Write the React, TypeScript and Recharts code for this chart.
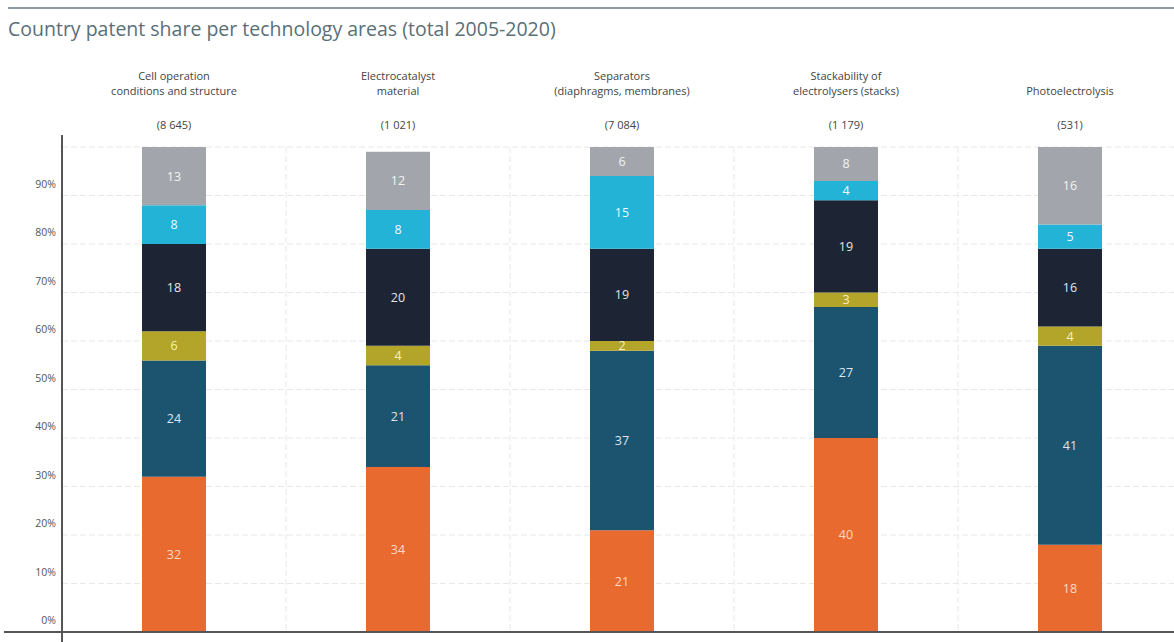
import React from 'react'
import {
  BarChart,
  Bar,
  XAxis,
  YAxis,
  CartesianGrid,
  LabelList,
} from 'recharts'

// technology areas (top labels) and patent counts
const categories = ['Cell operation', 'Electrocatalyst', 'Separators', 'Stackability', 'Photoelectrolysis']
const labelLines = [
  ['Cell operation', 'conditions and structure'],
  ['Electrocatalyst', 'material'],
  ['Separators', '(diaphragms, membranes)'],
  ['Stackability of', 'electrolysers (stacks)'],
  ['Photoelectrolysis'],
]
const counts = ['(8 645)', '(1 021)', '(7 084)', '(1 179)', '(531)']

// segments, bottom to top
const seg1 = [32, 34, 21, 40, 18]
const seg2 = [24, 21, 37, 27, 41]
const seg3 = [6, 4, 2, 3, 4]
const seg4 = [18, 20, 19, 19, 16]
const seg5 = [8, 8, 15, 4, 5]
const seg6 = [13, 12, 6, 8, 16]

const yTicks = [0, 10, 20, 30, 40, 50, 60, 70, 80, 90]

const series = [
  { key: 'seg1', values: seg1, color: '#e96a2e', text: '#fbd9c4' },
  { key: 'seg2', values: seg2, color: '#1c5470', text: '#dfe6ee' },
  { key: 'seg3', values: seg3, color: '#b3a42a', text: '#f7f0c0' },
  { key: 'seg4', values: seg4, color: '#1d2433', text: '#e4e4e8' },
  { key: 'seg5', values: seg5, color: '#22b3d7', text: '#eefaff' },
  { key: 'seg6', values: seg6, color: '#a2a6ac', text: '#f2f2f2' },
]

const data = categories.map((name, i) => {
  const row: any = { name }
  series.forEach((s) => { row[s.key] = s.values[i] })
  return row
})

const font = '"Open Sans", "Noto Sans", sans-serif'

const YTick = (props: any) => {
  const { x, y, payload } = props
  return (
    <text x={x + 2} y={y - 8} textAnchor="end" fontSize={10.5} fill="#555" fontFamily={font}>
      {payload.value}%
    </text>
  )
}

const TopTick = (props: any) => {
  const { x, index } = props
  const lines = labelLines[index] || []
  const startY = lines.length === 1 ? 95 : 80
  return (
    <g>
      {lines.map((l, i) => (
        <text key={i} x={x} y={startY + i * 15} textAnchor="middle" fontSize={11} fill="#444" fontFamily={font}>
          {l}
        </text>
      ))}
      <text x={x} y={129} textAnchor="middle" fontSize={11} fill="#444" fontFamily={font}>
        {counts[index]}
      </text>
    </g>
  )
}

export default function App() {
  return (
    <div style={{ position: 'fixed', left: 0, top: 0, width: 1174, height: 642, overflow: 'hidden', background: '#fff', fontFamily: font }}>
      <div style={{ position: 'absolute', left: 8, top: 7, width: 1166, height: 2, background: '#8e9ca1' }} />
      <div style={{ position: 'absolute', left: 8, top: 15, fontSize: 19.5, fontWeight: 500, color: '#5a6f76', whiteSpace: 'nowrap' }}>
        Country patent share per technology areas (total 2005-2020)
      </div>
      <BarChart
        width={1182}
        height={642}
        data={data}
        margin={{ top: 62, right: 0, left: 0, bottom: 10 }}
        barSize={64}
      >
        <CartesianGrid
          stroke="#e8e8e8"
          strokeDasharray="6 3"
          verticalCoordinatesGenerator={({ offset }: any) =>
            categories.slice(1).map((_, i) => offset.left + ((i + 1) * offset.width) / categories.length)
          }
        />
        <XAxis xAxisId="bottom" dataKey="name" tick={false} axisLine={false} tickLine={false} height={0} />
        <XAxis
          xAxisId="top"
          orientation="top"
          dataKey="name"
          height={85}
          axisLine={false}
          tickLine={false}
          tick={<TopTick />}
          interval={0}
        />
        <YAxis
          width={62}
          domain={[0, 100]}
          ticks={yTicks}
          allowDataOverflow
          axisLine={false}
          tickLine={false}
          tick={<YTick />}
        />
        {series.map((s) => (
          <Bar key={s.key} xAxisId="bottom" dataKey={s.key} stackId="a" fill={s.color} isAnimationActive={false}>
            <LabelList dataKey={s.key} position="center" fill={s.text} fontSize={12.5} fontFamily={font} />
          </Bar>
        ))}
      </BarChart>
      <div style={{ position: 'absolute', left: 61, top: 135, width: 2, height: 507, background: '#555' }} />
      <div style={{ position: 'absolute', left: 4, top: 631, width: 1170, height: 2, background: '#555' }} />
    </div>
  )
}
